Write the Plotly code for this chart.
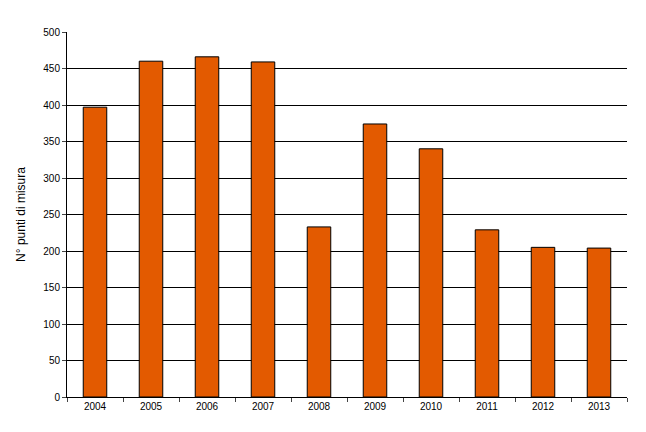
import plotly.graph_objects as go

years = ["2004","2005","2006","2007","2008","2009","2010","2011","2012","2013"]
values = [397, 460, 466, 459, 233, 374, 340, 229, 205, 204]

fig = go.Figure(go.Bar(x=years, y=values, width=0.42,
    marker=dict(color="#E35A00", line=dict(color="#000000", width=1))))
fig.update_layout(
    width=646, height=432, plot_bgcolor="white", paper_bgcolor="white",
    margin=dict(l=57, r=27, t=24, b=43),
    font=dict(family="Liberation Sans, Arial", size=11, color="black"),
    showlegend=False, bargap=0.58)
fig.update_yaxes(range=[0, 500], dtick=50, showgrid=True, gridcolor="black", gridwidth=1,
    showline=True, linecolor="black", ticks="outside", ticklen=4, tickfont=dict(size=10),
    title=dict(text="N° punti di misura", font=dict(size=12)))
fig.update_xaxes(showline=True, linecolor="black", mirror=False, ticks="outside", ticklen=4,
    tickfont=dict(size=10), tickson="boundaries")
fig.write_html("out.html")
